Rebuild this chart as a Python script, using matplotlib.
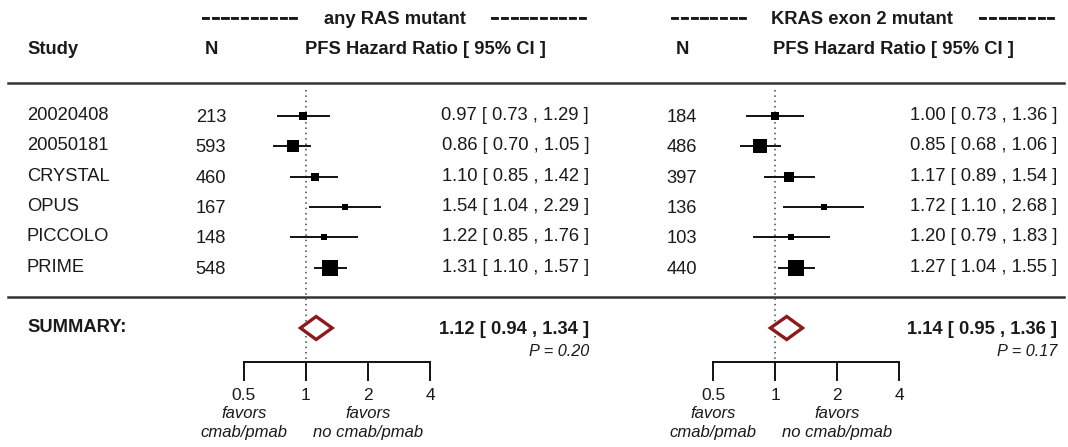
import matplotlib.pyplot as plt
import matplotlib.patheffects as pe
import numpy as np

plt.rcParams['font.family'] = ['Liberation Sans', 'DejaVu Sans']

# Data
studies = ['20020408', '20050181', 'CRYSTAL', 'OPUS', 'PICCOLO', 'PRIME']

ras_n = [213, 593, 460, 167, 148, 548]
ras_hr = [0.97, 0.86, 1.10, 1.54, 1.22, 1.31]
ras_lo = [0.73, 0.70, 0.85, 1.04, 0.85, 1.10]
ras_hi = [1.29, 1.05, 1.42, 2.29, 1.76, 1.57]
ras_summary = [1.12, 0.94, 1.34]
ras_p = '0.20'

kras_n = [184, 486, 397, 136, 103, 440]
kras_hr = [1.00, 0.85, 1.17, 1.72, 1.20, 1.27]
kras_lo = [0.73, 0.68, 0.89, 1.10, 0.79, 1.04]
kras_hi = [1.36, 1.06, 1.54, 2.68, 1.83, 1.55]
kras_summary = [1.14, 0.95, 1.36]
kras_p = '0.17'

ticks = [0.5, 1, 2, 4]
tick_labels = ['0.5', '1', '2', '4']

W, H = 1068, 447
fig = plt.figure(figsize=(W / 100, H / 100), dpi=100)
main = fig.add_axes([0, 0, 1, 1])
main.set_xlim(0, W)
main.set_ylim(H, 0)
main.axis('off')

txt = '#1a1a1a'
fs = 13.2
row_y = [114 + 30.3 * i for i in range(len(studies))]
sum_y = 328
unit = 62  # px per doubling of HR
thick = [pe.withStroke(linewidth=0.6, foreground=txt)]

# left column
main.text(27, 49, 'Study', fontsize=fs, fontweight='bold', color=txt, va='center')
for y, s in zip(row_y, studies):
    main.text(27, y + 1.5, s, fontsize=fs, color=txt, va='center')
main.text(27, 327, 'SUMMARY:', fontsize=fs, fontweight='bold', color=txt, va='center')

main.plot([8, 1064], [83, 83], color='#333333', lw=1.8)
main.plot([8, 1064], [297, 297], color='#333333', lw=1.8)


def panel(x_one, n_x, title_x, dash_l, dash_r, n_dash, hdr_x, right_x, title,
          n, hr, lo, hi, summ, pval):
    # forest axes: log2 scale, 1 at x_one
    x0 = x_one - 2 * unit
    ax = fig.add_axes([x0 / W, 0, 5 * unit / W, 1])
    ax.set_xscale('log', base=2)
    ax.set_xlim(0.25, 8)
    ax.set_ylim(H, 0)
    ax.axis('off')
    ax.patch.set_alpha(0)

    dashes = '-' * n_dash
    main.text(dash_l, 25.5, dashes, fontsize=21, color=txt, path_effects=thick,
              ha='right', va='baseline')
    main.text(title_x, 20, title, fontsize=fs, fontweight='bold', color=txt,
              ha='center', va='center')
    main.text(dash_r, 25.5, dashes, fontsize=21, color=txt, path_effects=thick,
              ha='left', va='baseline')
    main.text(n_x, 49, 'N', fontsize=fs, fontweight='bold', color=txt,
              ha='center', va='center')
    main.text(hdr_x, 49, 'PFS Hazard Ratio [ 95% CI ]', fontsize=fs,
              fontweight='bold', color=txt, ha='center', va='center')

    # weights from CI width -> square size (linear between 0.5 and 1.5)
    se = (np.log(hi) - np.log(lo)) / (2 * 1.96)
    w = 1 / se ** 2
    cex = 0.5 + (w - w.min()) / (w.max() - w.min())

    ax.plot([1, 1], [90, 362], color='#444444', lw=1.1, ls=(0, (1, 2.5)))
    for i, y in enumerate(row_y):
        ax.plot([lo[i], hi[i]], [y + 2, y + 2], color='#111111', lw=1.4)
        ax.plot(hr[i], y + 2, marker='s', color='black', ms=10.5 * cex[i] * 0.72, mew=0)
        main.text(n_x, y + 3.5, str(n[i]), fontsize=fs, color=txt, ha='center', va='center')
        main.text(right_x, y + 1.5, f'{hr[i]:.2f} [ {lo[i]:.2f} , {hi[i]:.2f} ]', fontsize=fs,
                  color=txt, ha='right', va='center')

    est, s_lo, s_hi = summ
    ax.fill([s_lo, est, s_hi, est, s_lo], [sum_y, sum_y - 11.5, sum_y, sum_y + 11.5, sum_y],
            facecolor='white', edgecolor='#8b1a1a', lw=2.4, zorder=3)
    main.text(right_x, sum_y + 1, f'{est:.2f} [ {s_lo:.2f} , {s_hi:.2f} ]', fontsize=fs,
              fontweight='bold', color=txt, ha='right', va='center')
    main.text(right_x, 352, f'P = {pval}', fontsize=11.7, style='italic',
              color=txt, ha='right', va='center')

    # bottom axis bracket
    ax.plot([ticks[0], ticks[-1]], [362, 362], color='#111111', lw=1.4)
    for t, lab in zip(ticks, tick_labels):
        ax.plot([t, t], [362, 380], color='#111111', lw=1.4)
        ax.text(t, 395, lab, fontsize=12.5, color=txt, ha='center', va='center')
    for t, line1, line2 in [(ticks[0], 'favors', 'cmab/pmab'),
                            (ticks[2], 'favors', 'no cmab/pmab')]:
        ax.text(t, 413, line1, fontsize=12, style='italic', color=txt,
                ha='center', va='center')
        ax.text(t, 433, line2, fontsize=12, style='italic', color=txt,
                ha='center', va='center')


panel(306, 211, 394.5, 297, 490, 10, 425.5, 589, 'any RAS mutant',
      ras_n, ras_hr, np.array(ras_lo), np.array(ras_hi), ras_summary, ras_p)
panel(775, 682, 862, 747, 978, 8, 893.5, 1057, 'KRAS exon 2 mutant',
      kras_n, kras_hr, np.array(kras_lo), np.array(kras_hi), kras_summary, kras_p)

fig.savefig('out.png', dpi=100, facecolor='white')
